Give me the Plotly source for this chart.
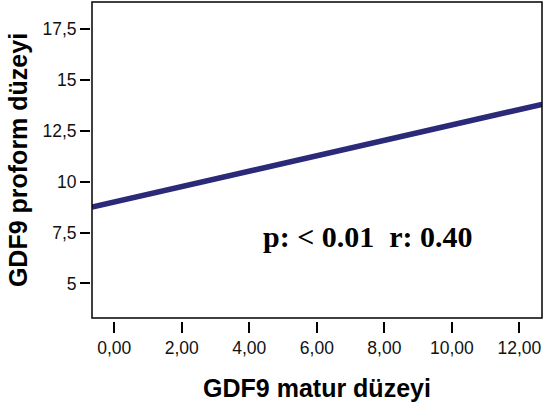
import plotly.graph_objects as go

# Data: fitted regression line endpoints
fit_x = [-0.66, 12.67]
fit_y = [8.75, 13.8]

x_tickvals = [0, 2, 4, 6, 8, 10, 12]
x_ticktext = ["0,00", "2,00", "4,00", "6,00", "8,00", "10,00", "12,00"]
y_tickvals = [5, 7.5, 10, 12.5, 15, 17.5]
y_ticktext = ["5", "7,5", "10", "12,5", "15", "17,5"]

x_title = "GDF9 matur düzeyi"
y_title = "GDF9 proform düzeyi"
stat_text = "p: < 0.01  r: 0.40"

W, H = 546, 407
ml, mr, mt, mb = 90, 4, 2, 86
pw = W - ml - mr
ph = H - mt - mb

fig = go.Figure()
fig.add_trace(go.Scatter(
    x=fit_x, y=fit_y, mode="lines",
    line=dict(color="#2a2a78", width=5.5),
    showlegend=False, hoverinfo="skip",
))

fig.add_shape(type="rect", xref="x domain", yref="y domain",
              x0=0, x1=1, y0=0, y1=1,
              line=dict(color="black", width=1.5), layer="above")

fig.add_annotation(text=stat_text, x=0.615, y=0.265, xref="paper", yref="paper",
                   xanchor="center", yanchor="middle",
                   showarrow=False,
                   font=dict(family="Liberation Serif, Times New Roman, serif",
                             size=30, color="black", weight="bold"))

tickfont = dict(family="Liberation Sans, Arial, sans-serif", size=17.5, color="#111111")
titlefont = dict(family="Liberation Sans, Arial, sans-serif", size=25, color="black", weight="bold")

fig.update_layout(
    width=W, height=H,
    margin=dict(l=ml, r=mr, t=mt, b=mb),
    paper_bgcolor="white", plot_bgcolor="white",
    xaxis=dict(
        range=[-0.66, 12.67], domain=[2 / pw, 1],
        anchor="free", position=0,
        tickvals=x_tickvals, ticktext=x_ticktext,
        ticks="outside", ticklen=11, tickwidth=2, tickcolor="black",
        showline=False, showgrid=False, zeroline=False,
        tickfont=tickfont,
        title=dict(text=x_title, font=titlefont, standoff=22),
    ),
    yaxis=dict(
        range=[3.3, 18.83], domain=[3 / ph, 1],
        anchor="free", position=0,
        tickvals=y_tickvals, ticktext=y_ticktext,
        ticks="outside", ticklen=10, tickwidth=2, tickcolor="black",
        showline=False, showgrid=False, zeroline=False,
        tickfont=tickfont,
        title=dict(text=y_title, font=titlefont, standoff=6),
    ),
)

fig.write_html("out.html")
